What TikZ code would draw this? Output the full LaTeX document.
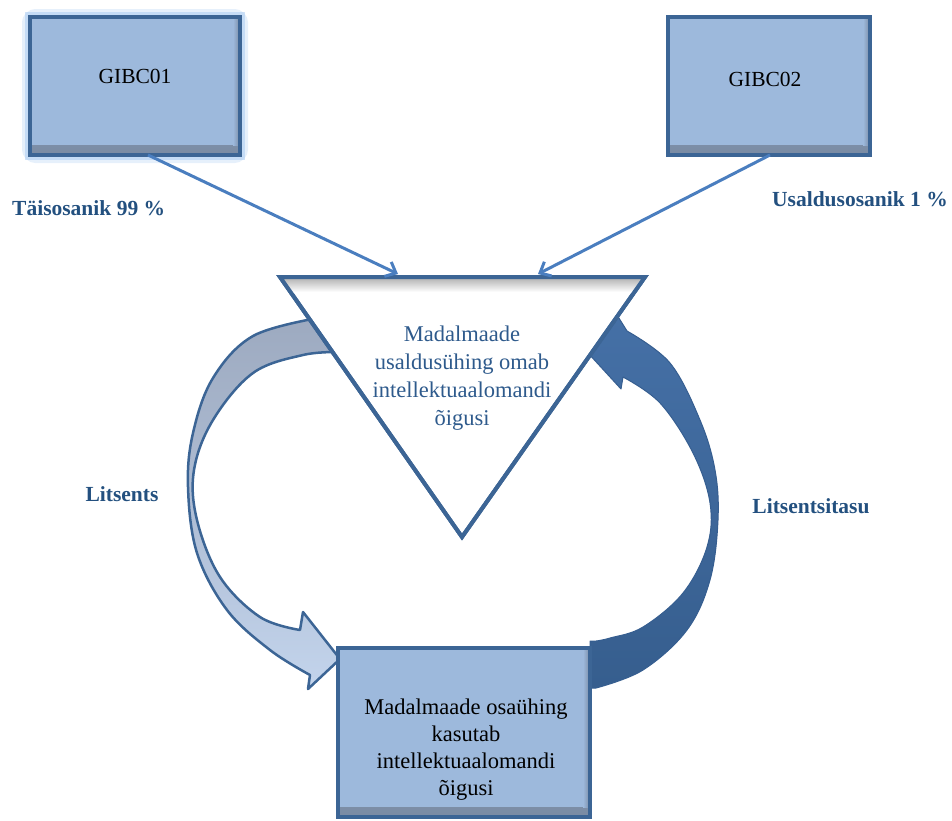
\documentclass[tikz,border=0pt]{standalone}
\usepackage{fontspec}
\setmainfont{Liberation Serif}
\usetikzlibrary{arrows.meta,calc}
\definecolor{boxfill}{HTML}{9DB9DC}
\definecolor{boxshade}{HTML}{7A8BA3}
\definecolor{boxline}{HTML}{3C6595}
\definecolor{linkblue}{HTML}{4A7EBF}
\definecolor{labelblue}{HTML}{23507F}
\definecolor{tritext}{HTML}{2E5A8C}
\definecolor{arrgray}{HTML}{9DAAC0}
\definecolor{arrlight}{HTML}{C3D4EC}
\definecolor{arrdarktop}{HTML}{4570A6}
\definecolor{arrdarkbot}{HTML}{365E8E}
\definecolor{arrdarkline}{HTML}{365E90}
\definecolor{glowblue}{HTML}{9CC3F0}
\tikzset{
  box/.style={draw=boxline, line width=4pt, fill=boxfill, inner sep=0pt,
    path picture={
      \shade[top color=boxfill, bottom color=boxshade]
        ([yshift=10pt]path picture bounding box.south west) rectangle (path picture bounding box.south east);
      \shade[left color=boxfill, right color=boxshade]
        ([xshift=-7pt]path picture bounding box.north east) rectangle ([yshift=10pt]path picture bounding box.south east);
    }},
  boxtext/.style={font=\fontsize{21.5}{27}\selectfont, align=center, text=black},
  tritxt/.style={font=\fontsize{22.5}{28}\selectfont, align=center, text=tritext},
  lbl/.style={font=\bfseries\fontsize{21.5}{26}\selectfont, text=labelblue, inner sep=0pt},
  link/.style={draw=linkblue, line width=3pt, -{Straight Barb[length=9pt,width=16pt,line width=3pt]}},
}
\begin{document}
\begin{tikzpicture}[x=1pt,y=-1pt]
\useasboundingbox (0,0) rectangle (952,820);

% glow behind GIBC01
\draw[glowblue, line width=16pt, opacity=0.25, rounded corners=6pt] (30,17) rectangle (240,155);
\draw[glowblue, line width=10pt, opacity=0.45] (30,17) rectangle (240,155);

% boxes
\node[box, minimum width=210pt, minimum height=138pt] (g1) at (135,86) {};
\node[boxtext] (g1t) at (135,76) {GIBC01};
\node[box, minimum width=202pt, minimum height=138pt] (g2) at (769,86) {};
\node[boxtext] (g2t) at (765,79) {GIBC02};

% labels
\node[lbl, anchor=west] (l1) at (12,208) {Täisosanik 99 \%};
\node[lbl, anchor=east] (l2) at (948,199) {Usaldusosanik 1 \%};
\node[lbl] (l3) at (122,494) {Litsents};
\node[lbl] (l4) at (811,506) {Litsentsitasu};

% left curved arrow (Litsents)
\shadedraw[top color=arrgray, bottom color=arrlight, middle color=arrgray!55!arrlight,
  draw=boxline, line width=2.5pt, line join=round]
  plot[smooth, tension=0.6] coordinates {(318,318) (253,336) (213,378) (193,433) (188,487) (197,553) (227,610) (270,650) (310,675)}
  -- (308,689) -- (340,659) -- (303,612) -- (300,630)
  -- plot[smooth, tension=0.6] coordinates {(300,630) (260,617) (220,577) (197,520) (194,470) (213,420) (253,373) (303,355) (340,352)}
  -- cycle;

% right curved arrow (Litsentsitasu)
\shadedraw[top color=arrdarktop, bottom color=arrdarkbot, draw=arrdarkline, line width=1pt, line join=round]
  (590,641) -- (590,688)
  -- plot[smooth, tension=0.6] coordinates {(596,688) (643,670) (687,630) (710,580) (718,520) (715,470) (700,420) (670,363) (627,331)}
  -- (617,315) -- (588,353) -- (621,389) -- (623,377)
  -- plot[smooth, tension=0.6] coordinates {(623,377) (660,403) (693,453) (710,503) (707,547) (683,593) (643,627) (610,638) (596,641)}
  -- cycle;

% triangle
\coordinate (tA) at (280,277);
\coordinate (tB) at (645,277);
\coordinate (tC) at (462,537);
\filldraw[fill=white, draw=boxline, line width=4pt, line join=miter] (tA) -- (tB) -- (tC) -- cycle;
\begin{scope}
  \clip (tA) -- (tB) -- (tC) -- cycle;
  \shade[top color=gray!55, bottom color=white] (280,279) rectangle (645,292);
\end{scope}
\draw[boxline, line width=4pt, line join=miter] (tA) -- (tB) -- (tC) -- cycle;
\node[tritxt] (tri) at (462,378) {Madalmaade\\usaldusühing omab\\intellektuaalomandi\\õigusi};

% bottom box
\node[box, minimum width=252pt, minimum height=169pt] (sub) at (464,732.5) {};
\node[boxtext, font=\fontsize{22.5}{27}\selectfont] (subt) at (466,750) {Madalmaade osaühing\\kasutab\\intellektuaalomandi\\õigusi};

% straight connectors
\coordinate (e1) at (398,274);
\coordinate (e2) at (538,274);
\draw[link] ($(g1.south)+(13,-2)$) -- (e1);
\draw[link] ($(g2.south)+(1,-2)$) -- (e2);
\end{tikzpicture}
\end{document}
